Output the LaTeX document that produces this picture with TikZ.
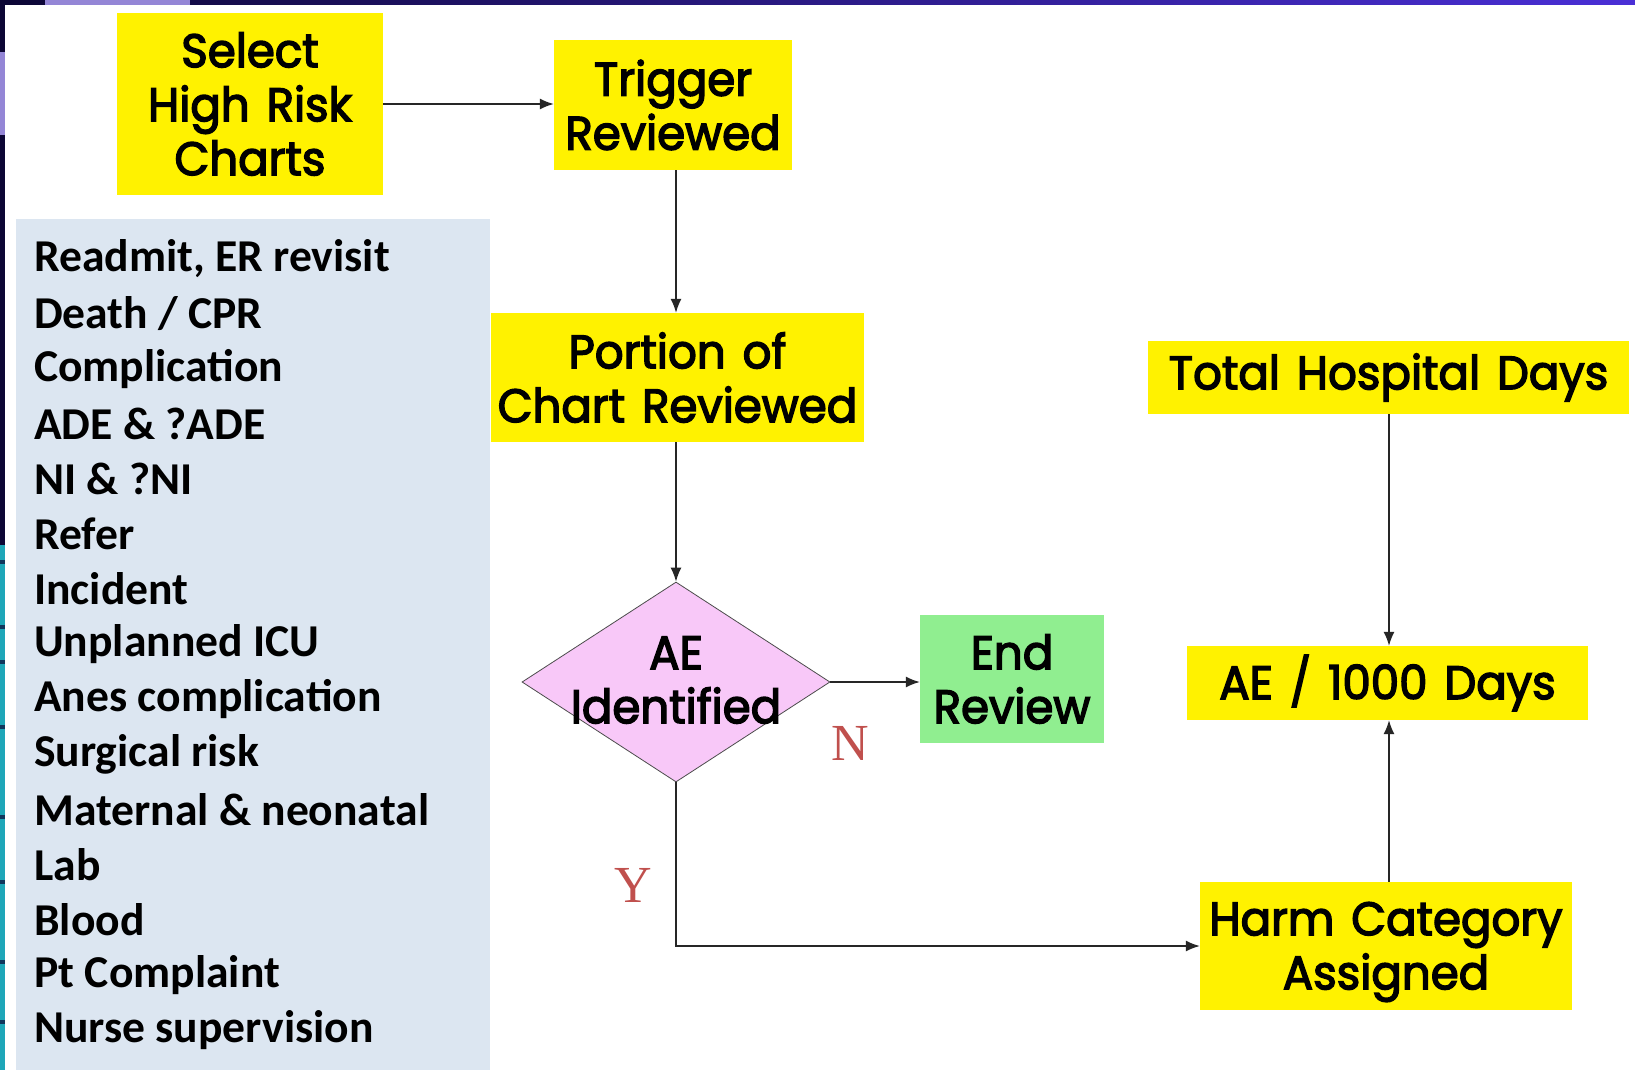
\documentclass[tikz,border=0pt]{standalone}
\usepackage{fontspec}
\usetikzlibrary{shapes.geometric,arrows.meta}
\newfontfamily\boxfont[FakeStretch=0.96,FakeBold=3,WordSpace=1.4]{Poppins}
\newfontfamily\listfont{Carlito}
\newfontfamily\ynfont{Liberation Serif}
\definecolor{navy}{HTML}{0C0635}
\definecolor{topblue}{HTML}{4A2FD6}
\definecolor{lav}{HTML}{9486D6}
\definecolor{tealstrip}{HTML}{1EA6B8}
\definecolor{panelblue}{HTML}{DCE6F1}
\definecolor{diapink}{HTML}{F8C8F8}
\definecolor{endgreen}{HTML}{90EE90}
\definecolor{ynred}{HTML}{C0504D}
\begin{document}
\begin{tikzpicture}[x=1pt,y=-1pt,
  ybox/.style={fill=yellow, align=center, inner sep=0pt, anchor=center,
    font=\boxfont\fontsize{47}{54}\selectfont},
  gbox/.style={ybox, fill=endgreen},
  txt/.style={align=center, inner sep=0pt, anchor=center,
    font=\boxfont\fontsize{47}{54}\selectfont},
  listitem/.style={anchor=west, inner sep=0pt, font=\listfont\bfseries\fontsize{45.6}{54}\selectfont},
  yn/.style={inner sep=0pt, text=ynred, font=\ynfont\fontsize{52}{56}\selectfont},
  arr/.style={draw=black!85, line width=1.4pt, -{Latex[length=14pt,width=11pt]}}
]
\useasboundingbox (0,0) rectangle (1635,1070);
\fill[white] (0,0) rectangle (1635,1070);
% frame decoration
\shade[left color=navy, right color=topblue] (0,0) rectangle (1635,5);
\fill[lav] (45,0) rectangle (190,5);
\fill[navy] (0,0) rectangle (5,1070);
\fill[lav] (0,52) rectangle (5,135);
\fill[tealstrip] (0,545) rectangle (5,1070);
\foreach \yy in {560,625,660,725,815,880,960,1020} {
  \fill[navy!70!tealstrip] (0,\yy) rectangle (5,\yy+4);
}
% left panel
\fill[panelblue] (16,219) rectangle (490,1070);
\foreach \t [count=\i from 0] in {{Readmit, ER revisit}, Death / CPR, Complication, ADE \& ?ADE, NI \& ?NI, Refer, Incident, Unplanned ICU, Anes complication, Surgical risk, Maternal \& neonatal, Lab, Blood, Pt Complaint, Nurse supervision} {
  \node[listitem] (item\i) at (34, 258.5+55.1*\i) {\t};
}
% boxes
\node[ybox, minimum width=266pt, minimum height=182pt] (sel) at (250,104) {Select\\High Risk\\Charts};
\node[ybox, minimum width=238pt, minimum height=130pt] (trig) at (673,105) {Trigger\\Reviewed};
\node[ybox, minimum width=373pt, minimum height=129pt] (port) at (677.5,377.5) {Portion of\\Chart Reviewed};
\node[draw=black!70, line width=0.8pt, fill=diapink, diamond, inner sep=0pt,
      minimum width=308pt, minimum height=200pt, aspect=1.54] (ae) at (676,682) {};
\node[txt] (aetxt) at (676,680) {AE\\Identified};
\node[gbox, minimum width=184pt, minimum height=128pt] (endr) at (1012,679) {End\\Review};
\node[ybox, minimum width=481pt, minimum height=73pt] (total) at (1388.5,377.5) {Total Hospital Days};
\node[ybox, minimum width=401pt, minimum height=74pt] (rate) at (1387.5,683) {AE / 1000 Days};
\node[ybox, minimum width=372pt, minimum height=128pt] (harm) at (1386,946) {};
\node[txt] (harmtxt) at (1386,952) {Harm Category\\Assigned};
% labels
\node[yn] (nlab) at (850,743) {N};
\node[yn] (ylab) at (633,885) {Y};
% connectors
\draw[arr] (sel.east) -- (trig.west |- sel.east);
\draw[arr] (trig.south -| ae.north) -- (port.north -| ae.north);
\draw[arr] (port.south -| ae.north) -- (ae.north);
\draw[arr] (ae.east) -- (endr.west |- ae.east);
\draw[arr] (ae.south) |- (harm.west);
\draw[arr] (total.south -| 1389,0) -- (rate.north -| 1389,0);
\draw[arr] (harm.north -| 1389,0) -- (rate.south -| 1389,0);
\end{tikzpicture}
\end{document}
